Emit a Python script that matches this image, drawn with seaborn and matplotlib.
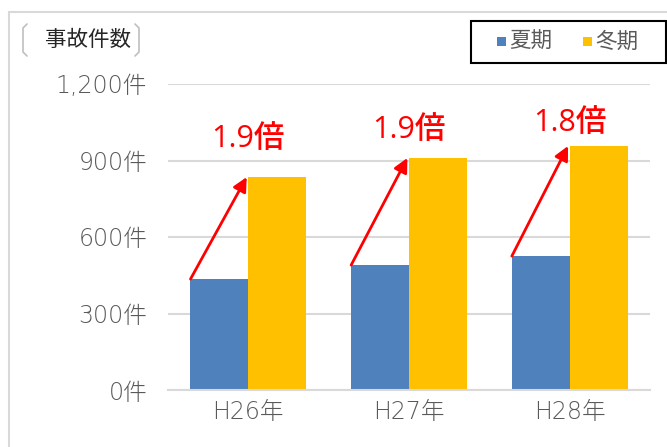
import matplotlib
matplotlib.use("Agg")
import matplotlib.pyplot as plt
import seaborn as sns
import pandas as pd
from matplotlib.patches import Rectangle
from matplotlib.lines import Line2D

years = ["H26年", "H27年", "H28年"]
summer = [435, 490, 525]
winter = [835, 910, 957]
ratio_labels = ["1.9倍", "1.9倍", "1.8倍"]
series_names = ["夏期", "冬期"]
ytick_vals = [0, 300, 600, 900, 1200]
ytick_labels = ["0件", "300件", "600件", "900件", "1,200件"]
label_offsets = [38, 28, 23]

sns.set_theme(style="white")
plt.rcParams["font.family"] = ["Noto Sans CJK JP", "DejaVu Sans"]

df = pd.DataFrame({
    "year": years * 2,
    "season": [series_names[0]] * 3 + [series_names[1]] * 3,
    "count": summer + winter,
})

fig = plt.figure(figsize=(6.67, 4.47), dpi=100)
ax = fig.add_axes([168 / 667, 1 - 390 / 447, (650 - 168) / 667, (390 - 84) / 447])
palette = {"夏期": "#4F81BD", "冬期": "#FFC000"}
sns.barplot(data=df, x="year", y="count", hue="season", palette=palette,
            width=0.72, gap=0, ax=ax, legend=False, saturation=1, linewidth=0)

ax.set_xlim(-0.5, 2.5)
ax.set_ylim(0, 1200)
ax.set_yticks(ytick_vals)
ax.set_yticklabels(ytick_labels)
ax.set_xlabel("")
ax.set_ylabel("")
grey = "#595959"
tick_font = ["DejaVu Sans", "Noto Sans CJK JP"]
ax.tick_params(axis="y", length=0, pad=15, labelsize=17, labelcolor=grey)
ax.tick_params(axis="x", length=0, pad=7, labelsize=17, labelcolor=grey)
for lab in ax.get_yticklabels() + ax.get_xticklabels():
    lab.set_family(tick_font)
    lab.set_fontweight("light")
for s in ["left", "right", "top"]:
    ax.spines[s].set_visible(False)
ax.spines["bottom"].set_color("#d9d9d9")
ax.spines["bottom"].set_linewidth(1.5)
ax.yaxis.grid(True, color="#d9d9d9", linewidth=1.5)
ax.set_axisbelow(True)

for i in range(len(years)):
    ax.annotate("", xy=(i - 0.01, winter[i]), xytext=(i - 0.36, summer[i]),
                arrowprops=dict(arrowstyle="-|>,head_length=0.7,head_width=0.35",
                                color="#FF0000", lw=2, shrinkA=0, shrinkB=0))
    ax.annotate(ratio_labels[i], xy=(i, winter[i]), xytext=(0, label_offsets[i]),
                textcoords="offset pixels", ha="center", va="center",
                color="#FF0000", fontsize=22, fontweight="medium",
                family=["Open Sans", "Noto Sans CJK JP"])

# outer chart border
fig.patches.append(Rectangle((9 / 667, -0.01), 1.0, 1 - 12 / 447 + 0.01,
                             transform=fig.transFigure, fill=False,
                             edgecolor="#d9d9d9", linewidth=1.5))

# axis title with bracket pair
fig.text(88 / 667, 1 - 40 / 447, "事故件数", ha="center", va="center",
         fontsize=15.5, color="#262626")
bc = "#bfbfbf"
for xs in [(27, 23, 23, 27), (135, 139, 139, 135)]:
    fig.lines.append(Line2D([x / 667 for x in xs],
                            [1 - 24 / 447, 1 - 28 / 447, 1 - 52 / 447, 1 - 56 / 447],
                            transform=fig.transFigure, color=bc, lw=1.2))

# legend box
fig.patches.append(Rectangle((471 / 667, 1 - 63 / 447), (666 - 471) / 667, 42 / 447,
                             transform=fig.transFigure, fill=True, facecolor="white",
                             edgecolor="black", linewidth=1.5))
for (sx, tx, name) in [(497, 509, series_names[0]), (583, 595, series_names[1])]:
    fig.patches.append(Rectangle((sx / 667, 1 - 46 / 447), 9 / 667, 9 / 447,
                                 transform=fig.transFigure, facecolor=palette[name],
                                 edgecolor="none"))
    fig.text(tx / 667, 1 - 42 / 447, name, ha="left", va="center",
             fontsize=15.5, color=grey)

fig.savefig("out.png", dpi=100)
